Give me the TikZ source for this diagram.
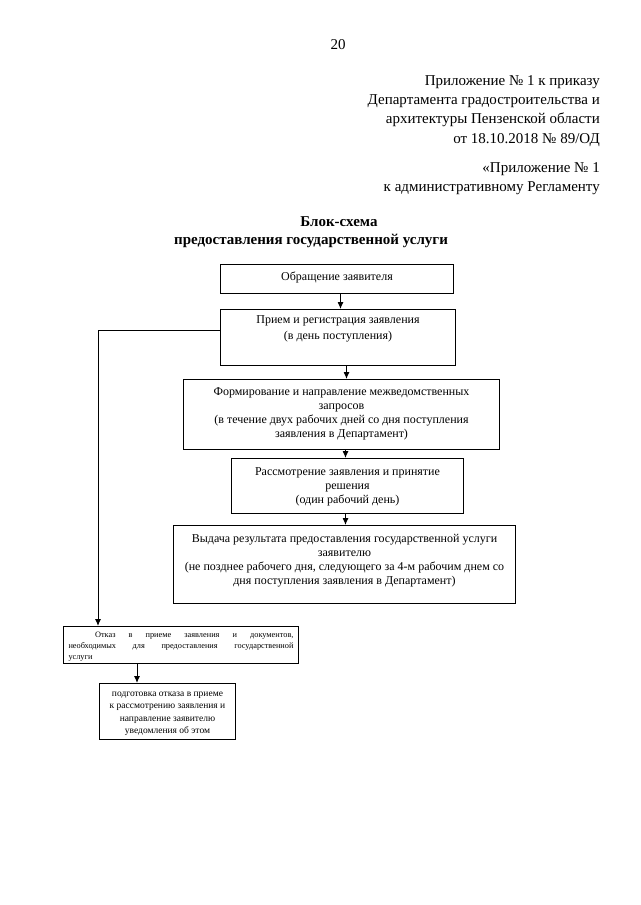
\documentclass[tikz,border=0pt]{standalone}
\usepackage{fontspec}
\setmainfont{Liberation Serif}
\usetikzlibrary{arrows.meta,positioning,calc}
% Kasten: Breite, Hoehe, Abstand oben, Text (zentriert, oben ausgerichtet)
\newcommand{\kasten}[4]{\parbox[c][#2pt][t]{#1pt}{\centering\vspace*{#3pt}#4}}

\begin{document}
\begin{tikzpicture}[x=1pt,y=-1pt,
  blk/.style={draw,line width=1pt,inner sep=0pt,anchor=north west,font=\fontsize{12}{14}\selectfont},
  pfeil/.style={-{Latex[length=7pt,width=6pt]},line width=1pt},
  kopf/.style={align=right,anchor=north east,inner sep=0pt,font=\fontsize{15}{19.3}\selectfont}]
\useasboundingbox (0,0) rectangle (640,905);
%Kopf der Seite
\node[font=\fontsize{15}{18}\selectfont] (seite) at (338,45) {20};
\node[kopf] (prikaz) at (600,75) {Приложение № 1 к приказу\\Департамента градостроительства и\\архитектуры Пензенской области\\от 18.10.2018 № 89/ОД};
\node[kopf] (reglament) at (600,162) {«Приложение № 1\\к административному Регламенту};
%erste Zeile mit Einzug wie im Original
\node[align=center,inner sep=0pt,font=\bfseries\fontsize{15}{18}\selectfont] (titel) at (311,232) {\hspace*{56pt}Блок-схема\\предоставления государственной услуги};
%Hauptkette
\node[blk] (obr) at (220,264) {\kasten{233}{29}{7.5}{Обращение заявителя}};
\node[blk] (priem) at (220,309) {\kasten{235}{56}{6}{Прием и регистрация заявления\\[2pt](в день поступления)}};
\node[blk] (zapros) at (183,379) {\kasten{316}{70}{8}{Формирование и направление межведомственных\\запросов\\(в течение двух рабочих дней со дня поступления\\заявления в Департамент)}};
\node[blk] (reshenie) at (231,458) {\kasten{232}{55}{9}{Рассмотрение заявления и принятие\\решения\\(один рабочий день)}};
\node[blk] (vydacha) at (173,525) {\kasten{342}{78}{8.5}{Выдача результата предоставления государственной услуги\\заявителю\\(не позднее рабочего дня, следующего за 4-м рабочим днем со\\дня поступления заявления в Департамент)}};
%Ablehnung links
\node[blk,font=\fontsize{8.3}{11}\selectfont] (otkaz) at (63,626) {\parbox[c][37pt][t]{235pt}{\vspace*{5.5pt}\hspace*{5pt}\parbox[t]{225pt}{\hspace*{3.2em}Отказ в приеме заявления и документов,\linebreak необходимых для предоставления государственной\linebreak услуги}}};
\node[blk,font=\fontsize{9.5}{12.3}\selectfont] (podgotovka) at (99,683) {\kasten{136}{56}{8.5}{подготовка отказа в приеме\\к рассмотрению заявления и\\направление заявителю\\уведомления об этом}};
%Pfeile
\draw[pfeil] ([xshift=3.5pt]obr.south) -- ([xshift=3.5pt]obr.south |- priem.north);
\draw[pfeil] ([xshift=8.5pt]priem.south) -- ([xshift=8.5pt]priem.south |- zapros.north);
\draw[pfeil] ([xshift=4pt]zapros.south) -- ([xshift=4pt]zapros.south |- reshenie.north);
\draw[pfeil] ([xshift=-2pt]reshenie.south) -- ([xshift=-2pt]reshenie.south |- vydacha.north);
\coordinate (links) at ($(otkaz.north west)+(35,0)$);
\draw[pfeil] ([yshift=7pt]priem.west) -| (links);
\coordinate (unten) at ($(otkaz.south west)+(74,0)$);
\draw[pfeil] (unten) -- (unten |- podgotovka.north);
\end{tikzpicture}
\end{document}
